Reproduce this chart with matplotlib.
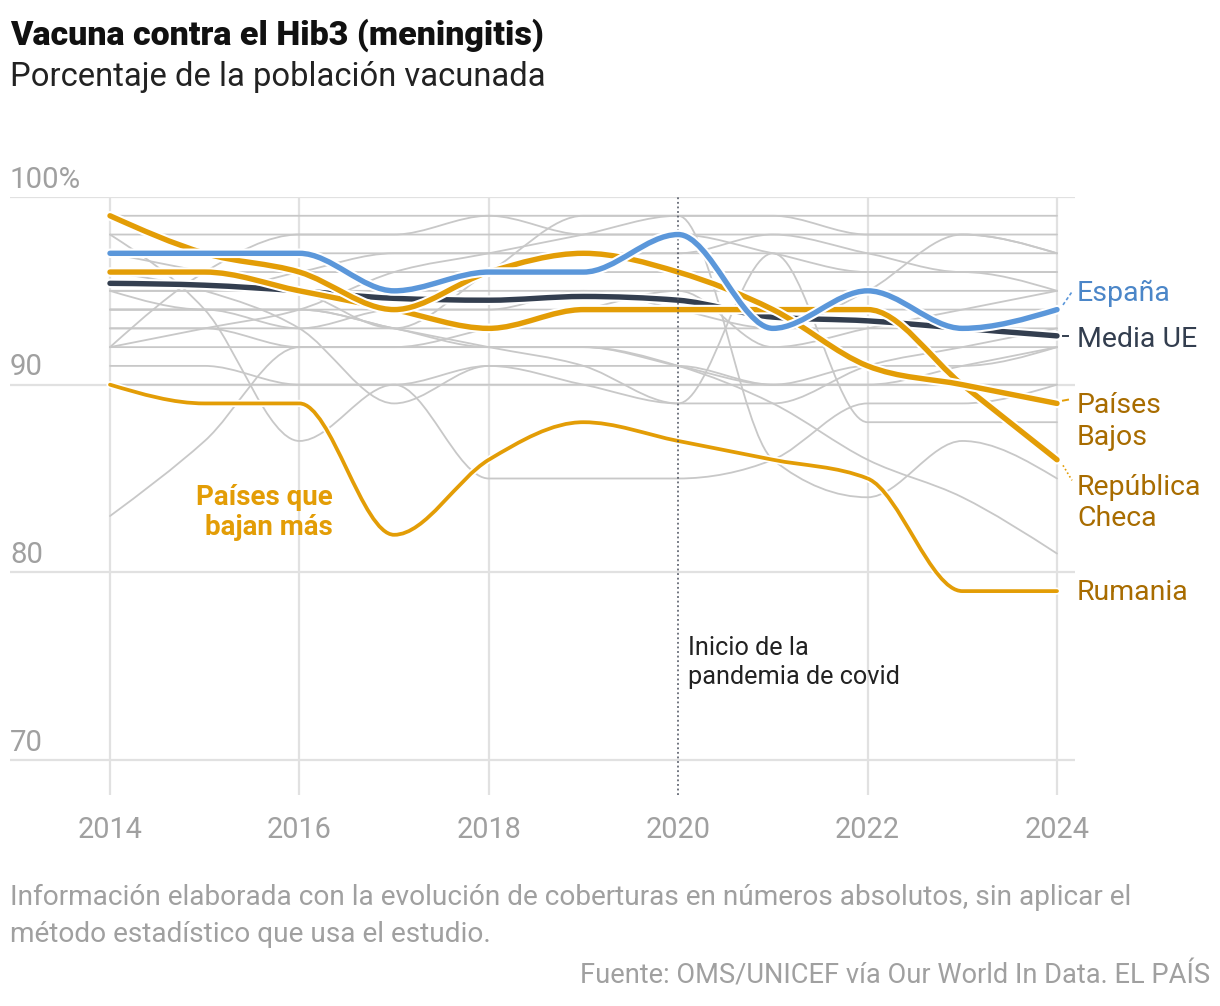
import numpy as np
import matplotlib
matplotlib.use("Agg")
import matplotlib.pyplot as plt
from matplotlib.path import Path
from matplotlib.patches import PathPatch
import matplotlib.patheffects as pe
import matplotlib.transforms as mtransforms

plt.rcParams['font.family'] = ['Roboto', 'DejaVu Sans']

# ---------------- data ----------------
years = [2014, 2015, 2016, 2017, 2018, 2019, 2020, 2021, 2022, 2023, 2024]

espana = [97, 97, 97, 95, 96, 96, 98, 93, 95, 93, 94]
media_ue = [95.4, 95.3, 95.0, 94.6, 94.5, 94.7, 94.5, 93.6, 93.4, 93.0, 92.6]
paises_bajos = [99, 97, 96, 94, 96, 97, 96, 94, 91, 90, 89]
rep_checa = [96, 96, 95, 94, 93, 94, 94, 94, 94, 90, 86]
rumania = [90, 89, 89, 82, 86, 88, 87, 86, 85, 79, 79]

gray_countries = [
    [99, 99, 99, 99, 99, 99, 99, 99, 99, 99, 99],
    [98, 98, 98, 98, 98, 98, 98, 98, 98, 98, 98],
    [97, 97, 97, 97, 97, 97, 97, 97, 97, 97, 97],
    [96, 96, 96, 96, 96, 96, 96, 96, 96, 96, 96],
    [95, 95, 95, 95, 95, 95, 95, 95, 95, 95, 95],
    [94, 94, 94, 94, 94, 94, 94, 94, 94, 94, 94],
    [93, 93, 93, 93, 93, 93, 93, 93, 93, 93, 93],
    [92, 92, 92, 92, 92, 92, 92, 92, 92, 92, 92],
    [90, 90, 90, 90, 90, 90, 90, 90, 90, 90, 90],
    [98, 94, 87, 90, 85, 85, 85, 86, 89, 89, 90],
    [97, 96, 95, 93, 96, 99, 99, 86, 84, 87, 85],
    [95, 94, 94, 93, 92, 92, 91, 89, 86, 84, 81],
    [96, 95, 93, 89, 91, 90, 89, 97, 88, 88, 88],
    [94, 94, 94, 93, 92, 91, 89, 89, 91, 92, 93],
    [83, 87, 92, 92, 92, 92, 91, 90, 91, 91, 92],
    [92, 93, 94, 96, 97, 98, 99, 99, 98, 98, 97],
    [92, 96, 98, 98, 99, 98, 98, 97, 96, 96, 95],
    [94, 94, 93, 94, 94, 95, 94, 93, 95, 98, 97],
    [95, 95, 96, 97, 97, 97, 97, 98, 97, 96, 96],
    [91, 91, 90, 90, 91, 91, 91, 90, 90, 91, 92],
    [93, 93, 92, 92, 93, 94, 95, 92, 93, 94, 95],
]

x_ticks = [2014, 2016, 2018, 2020, 2022, 2024]
y_grid = [70, 80, 90, 100]
y_labels = ["70", "80", "90", "100%"]
covid_year = 2020

# ---------------- helpers ----------------
def monotone_path(xs, ys):
    """Cubic Bezier path equivalent to d3.curveMonotoneX."""
    xs = np.asarray(xs, float)
    ys = np.asarray(ys, float)
    n = len(xs)
    h = np.diff(xs)
    s = np.diff(ys) / h
    t = np.zeros(n)
    for i in range(1, n - 1):
        s0, s1 = s[i - 1], s[i]
        p = (s0 * h[i] + s1 * h[i - 1]) / (h[i - 1] + h[i])
        t[i] = (np.sign(s0) + np.sign(s1)) * min(abs(s0), abs(s1), 0.5 * abs(p))
    t[0] = (3 * s[0] - t[1]) / 2
    t[-1] = (3 * s[-1] - t[-2]) / 2
    verts = [(xs[0], ys[0])]
    codes = [Path.MOVETO]
    for i in range(n - 1):
        dx = h[i] / 3
        verts += [(xs[i] + dx, ys[i] + dx * t[i]),
                  (xs[i + 1] - dx, ys[i + 1] - dx * t[i + 1]),
                  (xs[i + 1], ys[i + 1])]
        codes += [Path.CURVE4] * 3
    return Path(verts, codes)


def draw_curve(ax, xs, ys, color, lw, z, halo=0):
    patch = PathPatch(monotone_path(xs, ys), facecolor='none', edgecolor=color,
                      lw=lw, zorder=z, capstyle='round', joinstyle='round')
    if halo:
        patch.set_path_effects([pe.Stroke(linewidth=lw + halo, foreground='white'),
                                pe.Normal()])
    ax.add_patch(patch)


# ---------------- figure ----------------
W, H = 1220, 1006
fig = plt.figure(figsize=(W / 100, H / 100), dpi=100)

px_l, px_r, px_t, px_b = 10, 1075, 197, 795
ax = fig.add_axes([px_l / W, 1 - px_b / H, (px_r - px_l) / W, (px_b - px_t) / H])
x_per_year = (1057 - 110) / 10
ax.set_xlim(2014 - (110 - px_l) / x_per_year, 2024 + (px_r - 1057) / x_per_year)
y_per_unit = (760 - 197) / 30
ax.set_ylim(100 - (px_b - px_t) / y_per_unit, 100)
for sp in ax.spines.values():
    sp.set_visible(False)

grid_col = '#e1e1e1'
for v in y_grid:
    ax.axhline(v, color=grid_col, lw=1.6, zorder=0)
for yr in x_ticks:
    if yr == covid_year:
        continue
    ax.vlines(yr, ax.get_ylim()[0], 100, color=grid_col, lw=1.6, zorder=0)
ax.vlines(covid_year, ax.get_ylim()[0], 100, color='#4a4f5c', lw=1.1,
          linestyles=(0, (1.2, 1.8)), zorder=6)

ax.set_xticks(x_ticks)
ax.set_xticklabels([str(v) for v in x_ticks])
ax.set_yticks([])
ax.tick_params(axis='x', length=0, pad=15, labelsize=20.8, labelcolor='#a0a0a0')

# y labels above gridlines
trans_y = mtransforms.blended_transform_factory(ax.transAxes, ax.transData)
off = mtransforms.offset_copy(trans_y, fig=fig, x=0, y=2.5, units='points')
for v, lab in zip(y_grid, y_labels):
    ax.text(0, v, lab, transform=off, ha='left', va='bottom',
            fontsize=21.2, color='#a0a0a0')

# gray country lines
for g in gray_countries:
    draw_curve(ax, years, g, '#c8c8c8', 1.3, 1)

# highlighted
orange = '#e39d06'
draw_curve(ax, years, rumania, orange, 2.7, 3, halo=2.5)
draw_curve(ax, years, media_ue, '#333e4f', 3.9, 4, halo=3)
draw_curve(ax, years, rep_checa, orange, 3.9, 5, halo=3)
draw_curve(ax, years, paises_bajos, orange, 3.9, 5, halo=3)
draw_curve(ax, years, espana, '#5b97da', 3.9, 6, halo=3)

# end labels
lab_x = 2024 + (1077 - 1057) / x_per_year
lab_fs = 20.5
brown = '#a86c00'
ax.text(lab_x, espana[-1] + 0.85, "España", color='#4b86c8', fontsize=lab_fs,
        va='center', ha='left', clip_on=False)
ax.text(lab_x, media_ue[-1] - 0.2, "Media UE", color='#333e4f', fontsize=lab_fs,
        va='center', ha='left', clip_on=False)
ax.text(lab_x, paises_bajos[-1] - 0.95, "Países\nBajos", color=brown, fontsize=lab_fs,
        va='center', ha='left', linespacing=1.22, clip_on=False)
ax.text(lab_x, rep_checa[-1] - 2.3, "República\nCheca", color=brown, fontsize=lab_fs,
        va='center', ha='left', linespacing=1.22, clip_on=False)
ax.text(lab_x, rumania[-1] - 0.05, "Rumania", color=brown, fontsize=lab_fs,
        va='center', ha='left', clip_on=False)

# connectors
cx0 = 2024 + 6 / x_per_year
cx1 = 2024 + 15 / x_per_year
ax.plot([cx0, cx1], [espana[-1] + 0.25, espana[-1] + 0.95], color='#5b97da', lw=1.2,
        ls=(0, (2, 1.5)), clip_on=False, zorder=7)
ax.plot([cx0, cx1 - 4 / x_per_year], [media_ue[-1], media_ue[-1]], color='#333e4f', lw=1.4,
        clip_on=False, zorder=7)
ax.plot([cx0, cx1 - 4 / x_per_year], [paises_bajos[-1] + 0.15, paises_bajos[-1] + 0.2],
        color=orange, lw=1.4, clip_on=False, zorder=7)
ax.plot([cx0, cx1], [rep_checa[-1] - 0.3, rep_checa[-1] - 1.1], color=orange, lw=1.2,
        ls=(0, (1, 1.5)), clip_on=False, zorder=7)

# annotations
ax.text(2016 + (333 - 300) / x_per_year, 83.2,
        "Países que\nbajan más", color=orange, fontsize=20, fontweight='bold',
        ha='right', va='center', linespacing=1.12)
ax.text(2020 + 10 / x_per_year, 75.2, "Inicio de la\npandemia de covid",
        color='#222222', fontsize=18.2, ha='left', va='center', linespacing=1.3)

# titles and notes
fig.text(10 / W, 1 - 35 / H, "Vacuna contra el Hib3 (meningitis)", fontsize=24.5,
         fontweight='heavy', color='#111111', ha='left', va='center')
fig.text(10 / W, 1 - 77 / H, "Porcentaje de la población vacunada", fontsize=23.6,
         color='#222222', ha='left', va='center')
fig.text(10 / W, 1 - 916 / H,
         "Información elaborada con la evolución de coberturas en números absolutos, sin aplicar el\n"
         "método estadístico que usa el estudio.",
         fontsize=20.2, color='#a0a0a0', ha='left', va='center', linespacing=1.5)
fig.text(1210 / W, 1 - 976 / H, "Fuente: OMS/UNICEF vía Our World In Data. EL PAÍS",
         fontsize=19.6, color='#a0a0a0', ha='right', va='center')

fig.savefig("out.png", dpi=100, facecolor='white')
